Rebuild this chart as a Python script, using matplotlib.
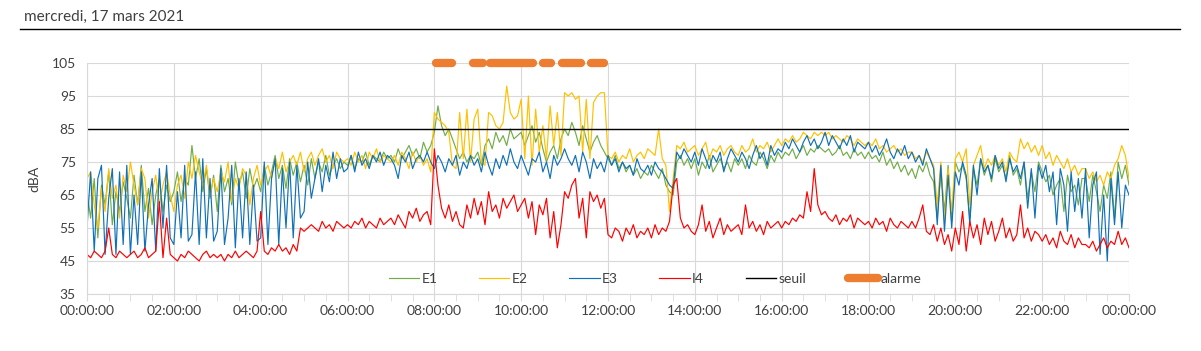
import numpy as np
import matplotlib.pyplot as plt
from matplotlib.lines import Line2D

plt.rcParams['font.family'] = ['Lato', 'DejaVu Sans']

# 5-minute readings, 00:00 -> 24:00 (289 points), dBA, one row per hour
e1 = [66, 58, 70, 52, 68, 62, 72, 56, 66, 60, 69, 64,
      58, 71, 62, 74, 60, 67, 56, 65, 70, 60, 68, 63,
      66, 72, 63, 70, 68, 80, 70, 76, 66, 73, 64, 71,
      60, 74, 66, 70, 62, 75, 68, 72, 64, 73, 67, 70,
      66, 74, 68, 72, 77, 70, 74, 67, 76, 71, 75, 69,
      74, 68, 76, 70, 75, 72, 77, 71, 74, 76, 73, 75,
      74, 77, 73, 76, 75, 78, 74, 77, 76, 75, 78, 76,
      77, 75, 79, 76, 78, 80, 77, 79, 76, 81, 78, 80,
      84, 92, 86, 83, 85, 82, 79, 76, 78, 75, 77, 76,
      78, 74, 80, 82, 79, 84, 81, 83, 80, 85, 82, 83,
      84, 80, 83, 86, 81, 84, 79, 75, 78, 80, 76, 82,
      85, 83, 87, 84, 80, 86, 82, 78, 81, 83, 80, 78,
      76, 74, 77, 73, 75, 72, 74, 71, 73, 70, 72, 71,
      74, 72, 70, 73, 68, 66, 65, 75, 77, 74, 76, 73,
      76, 71, 75, 73, 77, 72, 74, 76, 73, 75, 72, 76,
      74, 76, 73, 77, 75, 74, 78, 76, 73, 77, 75, 78,
      76, 78, 77, 79, 76, 78, 80, 77, 79, 78, 80, 79,
      78, 79, 77, 78, 80, 77, 78, 76, 79, 77, 78, 76,
      78, 76, 77, 75, 78, 74, 76, 73, 75, 72, 74, 71,
      73, 70, 74, 72, 75, 71, 69, 58, 72, 60, 74, 57,
      75, 72, 74, 70, 58, 73, 68, 76, 71, 74, 69, 76,
      72, 74, 70, 77, 71, 73, 68, 75, 64, 72, 66, 75,
      72, 69, 71, 65, 68, 70, 60, 71, 66, 68, 62, 70,
      70, 63, 71, 66, 60, 68, 64, 72, 58, 75, 70, 74,
      68]

e2 = [70, 72, 62, 55, 67, 60, 73, 64, 68, 58, 71, 66,
      75, 68, 62, 73, 70, 58, 66, 71, 62, 68, 72, 65,
      60, 68, 71, 64, 75, 70, 77, 72, 68, 74, 65, 70,
      66, 72, 69, 75, 63, 70, 67, 73, 71, 62, 70, 74,
      68, 72, 74, 70, 76, 73, 78, 72, 75, 77, 74, 78,
      72, 76, 78, 74, 77, 79, 75, 77, 73, 78, 76, 75,
      76, 74, 78, 75, 77, 73, 78, 76, 79, 75, 77, 76,
      75, 77, 74, 78, 76, 73, 78, 75, 77, 74, 76, 72,
      90, 88, 87, 86, 84, 74, 73, 90, 76, 91, 75, 88,
      91, 75, 74, 90, 89, 86, 85, 87, 98, 90, 88, 89,
      94, 76, 95, 74, 91, 78, 86, 76, 92, 80, 90, 77,
      96, 95, 96, 94, 95, 78, 94, 76, 93, 95, 96, 96,
      77, 76, 78, 75, 77, 76, 79, 75, 77, 78, 76, 79,
      78, 77, 85, 76, 74, 60, 70, 80, 79, 81, 78, 79,
      80, 77, 79, 81, 76, 79, 78, 80, 77, 79, 80, 78,
      77, 80, 78, 79, 82, 78, 80, 79, 81, 78, 80, 82,
      80, 82, 81, 83, 81, 82, 84, 83, 82, 84, 83, 84,
      83, 84, 82, 83, 82, 81, 83, 82, 80, 82, 81, 80,
      81, 80, 82, 79, 80, 78, 79, 80, 78, 79, 77, 78,
      78, 76, 77, 75, 78, 76, 74, 62, 75, 57, 73, 60,
      76, 78, 75, 79, 62, 74, 77, 80, 73, 76, 74, 77,
      74, 76, 72, 78, 76, 75, 82, 79, 81, 78, 80, 77,
      80, 76, 78, 74, 77, 75, 73, 76, 72, 74, 71, 73,
      73, 70, 72, 69, 71, 68, 72, 70, 74, 76, 80, 77,
      70]

e3 = [55, 72, 48, 70, 74, 47, 64, 73, 47, 72, 50, 74,
      47, 65, 50, 72, 48, 62, 70, 48, 73, 55, 74, 52,
      50, 66, 52, 74, 51, 53, 72, 50, 76, 52, 70, 51,
      54, 73, 50, 58, 74, 49, 70, 52, 72, 50, 68, 51,
      52, 75, 50, 70, 76, 50, 73, 55, 75, 52, 74, 58,
      60, 75, 64, 70, 76, 66, 74, 69, 78, 70, 76, 72,
      73, 77, 72, 78, 74, 76, 73, 77, 75, 78, 74, 77,
      76, 74, 70, 77, 75, 78, 73, 76, 77, 75, 78, 75,
      73, 77, 75, 72, 76, 74, 77, 71, 75, 73, 77, 74,
      76, 72, 78, 74, 71, 76, 73, 77, 74, 79, 75, 73,
      77, 74, 71, 76, 75, 78, 72, 75, 70, 77, 74, 76,
      79, 76, 74, 77, 72, 78, 75, 70, 76, 73, 75, 72,
      77, 74, 76, 72, 75, 73, 74, 71, 76, 73, 72, 74,
      71, 75, 73, 72, 70, 68, 67, 78, 76, 79, 77, 75,
      78, 74, 79, 76, 73, 77, 75, 78, 72, 76, 79, 77,
      75, 78, 76, 73, 77, 80, 76, 78, 74, 80, 77, 79,
      78, 81, 79, 82, 80, 78, 81, 83, 80, 82, 79, 81,
      84, 80, 83, 81, 79, 82, 80, 83, 78, 81, 80, 79,
      81, 78, 80, 77, 79, 82, 78, 76, 79, 77, 80, 76,
      78, 75, 77, 74, 79, 76, 73, 56, 74, 54, 71, 55,
      72, 68, 75, 71, 56, 74, 65, 76, 72, 74, 70, 77,
      73, 75, 69, 76, 72, 74, 70, 75, 61, 73, 58, 74,
      70, 74, 66, 72, 56, 73, 68, 54, 72, 60, 70, 58,
      73, 52, 68, 72, 47, 65, 45, 70, 56, 72, 55, 68,
      65]

i4 = [47, 46, 48, 47, 46, 48, 55, 47, 46, 48, 47, 46,
      47, 48, 46, 47, 49, 46, 47, 48, 63, 46, 58, 47,
      46, 45, 47, 46, 48, 47, 46, 45, 47, 48, 46, 47,
      46, 47, 45, 47, 46, 48, 46, 47, 48, 47, 46, 48,
      60, 48, 47, 49, 48, 50, 48, 49, 47, 50, 48, 55,
      54, 55, 56, 55, 54, 57, 55, 56, 54, 57, 56, 55,
      56, 55, 57, 56, 58, 55, 57, 56, 55, 58, 56, 57,
      58, 56, 59, 57, 55, 60, 58, 61, 57, 59, 60, 56,
      79, 68, 61, 58, 62, 57, 60, 56, 55, 62, 58, 64,
      59, 63, 56, 66, 60, 62, 58, 64, 61, 63, 65, 60,
      62, 64, 58, 63, 53, 62, 59, 64, 52, 60, 49, 56,
      66, 64, 68, 70, 58, 64, 52, 66, 63, 65, 61, 64,
      53, 52, 55, 54, 51, 55, 53, 56, 52, 54, 53, 55,
      52, 56, 53, 55, 54, 57, 68, 70, 58, 55, 56, 54,
      53, 56, 62, 54, 57, 52, 55, 58, 53, 56, 54, 55,
      56, 53, 62, 55, 57, 54, 56, 53, 57, 55, 56, 57,
      55, 57, 56, 58, 57, 59, 58, 66, 60, 73, 62, 59,
      60, 58, 57, 59, 56, 58, 57, 59, 55, 58, 57, 56,
      57, 55, 58, 56, 57, 54, 58, 56, 55, 57, 56, 55,
      57, 55, 58, 62, 54, 53, 56, 51, 55, 50, 53, 48,
      55, 50, 60, 48, 57, 52, 56, 50, 58, 53, 57, 51,
      54, 58, 52, 55, 51, 53, 62, 52, 55, 51, 54, 53,
      51, 53, 50, 52, 49, 54, 51, 50, 53, 49, 52, 50,
      50, 49, 51, 48, 50, 52, 49, 51, 50, 54, 50, 52,
      49]

seuil = 85
alarm_level = 105
# alarm periods (hours)
alarm_periods = [(7.95, 8.48), (8.80, 9.19), (9.21, 10.36),
                 (10.43, 10.76), (10.85, 11.45), (11.52, 11.98)]

hours = np.arange(len(e1)) / 12.0
tick_labels = ['%02d:00:00' % (h % 24) for h in range(0, 25, 2)]

fig = plt.figure(figsize=(12.01, 3.51), dpi=100)
ax = fig.add_axes([87 / 1201, 1 - 294 / 351, 1042 / 1201, 231 / 351])

grid_c = '#d9d9d9'
text_c = '#404040'

ax.plot(hours, e1, color='#70ad47', lw=0.85, label='E1')
ax.plot(hours, e2, color='#ffc000', lw=0.85, label='E2')
ax.plot(hours, e3, color='#1070b8', lw=0.85, label='E3')
ax.plot(hours, i4, color='#ff0000', lw=0.85, label='I4')
ax.axhline(seuil, color='black', lw=1.0, label='seuil')
cap = 0.08
for k, (a, b) in enumerate(alarm_periods):
    ax.plot([a + cap, b - cap], [alarm_level, alarm_level], color='#ed7d31',
            lw=6, solid_capstyle='round', clip_on=False,
            label='alarme' if k == 0 else None)

ax.set_xlim(0, 24)
ax.set_ylim(35, 105)
ax.set_yticks(range(35, 106, 10))
ax.set_xticks(range(0, 25, 2))
ax.set_xticklabels(tick_labels)
ax.set_xticks(np.arange(0, 24.01, 0.5), minor=True)
ax.grid(axis='y', color=grid_c, lw=0.8)
ax.grid(axis='x', which='major', color=grid_c, lw=0.8)
ax.set_axisbelow(True)
for s in ['top', 'right']:
    ax.spines[s].set_visible(False)
for s in ['left', 'bottom']:
    ax.spines[s].set_color(grid_c)
ax.tick_params(axis='y', length=0, labelsize=10, labelcolor=text_c, pad=8)
ax.tick_params(axis='x', which='both', length=5, color=grid_c,
               labelsize=10, labelcolor=text_c, pad=3)
ax.set_ylabel('dBA', fontsize=10, color=text_c, labelpad=8)

leg = ax.legend(loc='center', bbox_to_anchor=(0.545, 0.065), ncol=6,
                frameon=False, fontsize=10, handlelength=2.2,
                columnspacing=3.0, handletextpad=0.15)
for t in leg.get_texts():
    t.set_color(text_c)

fig.text(24 / 1201, 1 - 17 / 351, 'mercredi, 17 mars 2021', fontsize=11,
         color=text_c, va='center', ha='left')
fig.add_artist(Line2D([20 / 1201, 1180 / 1201], [1 - 29 / 351, 1 - 29 / 351],
                      color='black', lw=1.0))

fig.savefig('out.png', dpi=100)
